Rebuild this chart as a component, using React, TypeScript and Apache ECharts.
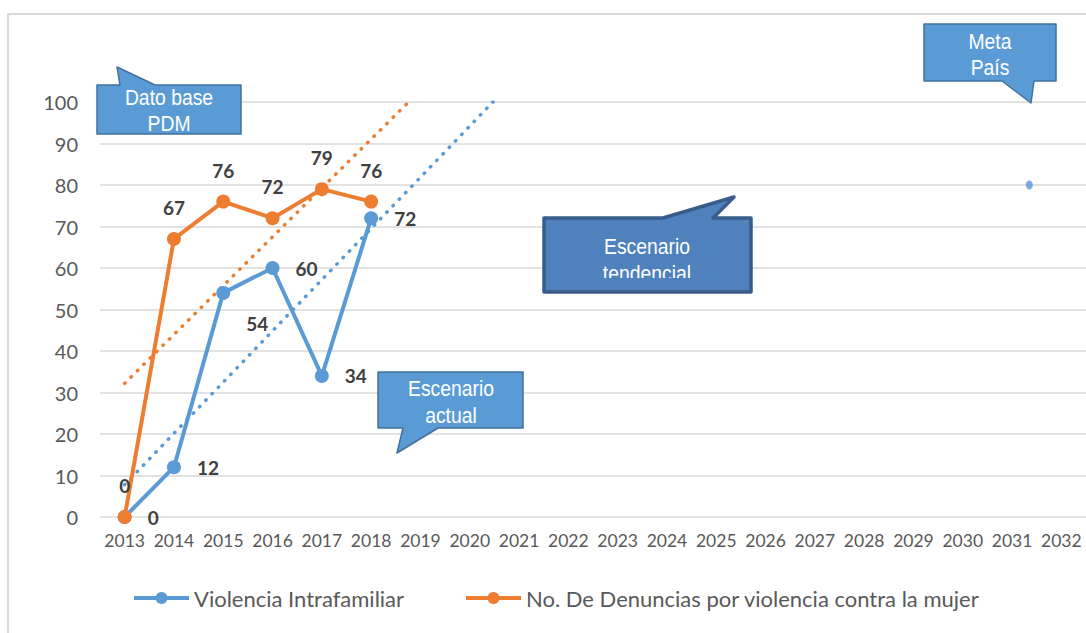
import React, { useEffect, useRef } from "react";
import * as echarts from "echarts";

const years = ["2013","2014","2015","2016","2017","2018","2019","2020","2021","2022","2023","2024","2025","2026","2027","2028","2029","2030","2031","2032"];
const violencia = [0, 12, 54, 60, 34, 72];
const denuncias = [0, 67, 76, 72, 79, 76];
const trendViolencia = [[2013, 7.8], [2020.47, 100]];
const trendDenuncias = [[2013, 32.2], [2018.76, 100]];
const metaPais = [[2031.35, 80]];
const yTicks = { min: 0, max: 100, interval: 10 };
const nameViolencia = "Violencia Intrafamiliar";
const nameDenuncias = "No. De Denuncias por violencia contra la mujer";

const BLUE = "#5b9bd5";
const ORANGE = "#ed7d31";
const LABEL = "#404040";
const AXIS = "#595959";
const GRID = "#d9d9d9";

function callout(points: number[][], fill: string, stroke: string, lw: number) {
  return {
    type: "polygon",
    z: 100,
    silent: true,
    shape: { points },
    style: { fill, stroke, lineWidth: lw, lineJoin: "round" },
  };
}
function ctext(text: string, x: number, y: number) {
  return {
    type: "text",
    z: 101,
    silent: true,
    x,
    y,
    scaleX: 0.88,
    style: {
      text,
      fill: "#ffffff",
      font: "22px 'Liberation Sans', Arial, sans-serif",
      align: "center",
      verticalAlign: "middle",
    },
  };
}

export default function App() {
  const ref = useRef<HTMLDivElement>(null);
  useEffect(() => {
    document.body.style.margin = "0";
    const chart = echarts.init(ref.current!, null, { renderer: "svg" });
    const labelBase = { show: true, fontFamily: "Lato", fontWeight: "bold", fontSize: 19, color: LABEL };
    const dotted = { type: [0.5, 8.5], cap: "round", width: 3.5 };
    const legendBase = {
      top: 587,
      padding: 0,
      itemWidth: 55,
      itemHeight: 15,
      itemGap: 5,
      lineStyle: { width: 4 },
      textStyle: { fontFamily: "Lato", fontSize: 22, color: AXIS },
    };
    chart.setOption({
      animation: false,
      grid: { left: 100, right: 0, top: 102, bottom: 116, containLabel: false },
      xAxis: [
        {
          type: "category",
          data: years,
          boundaryGap: true,
          axisLine: { show: false },
          axisTick: { show: false },
          splitLine: { show: false },
          axisLabel: { color: AXIS, fontFamily: "Lato", fontSize: 17.5, margin: 14, interval: 0 },
        },
        {
          type: "value",
          min: 2012.5,
          max: 2032.5,
          show: false,
          splitLine: { show: false },
        },
      ],
      yAxis: {
        type: "value",
        min: yTicks.min,
        max: yTicks.max,
        interval: yTicks.interval,
        axisLine: { show: false },
        axisTick: { show: false },
        splitLine: { lineStyle: { color: GRID, width: 1.5 } },
        axisLabel: { color: AXIS, fontFamily: "Lato", fontSize: 20, margin: 22 },
      },
      legend: [
        { ...legendBase, data: [nameViolencia], left: 132 },
        { ...legendBase, data: [nameDenuncias], left: 464 },
      ],
      graphic: [
        {
          type: "rect",
          z: -10,
          silent: true,
          shape: { x: 8, y: 14, width: 1200, height: 800 },
          style: { fill: "none", stroke: GRID, lineWidth: 2 },
        },
        callout([[97,85],[120,85],[117,67],[155,85],[241,85],[241,134],[97,134]], BLUE, "#41719c", 1.5),
        ctext("Dato base", 169, 97),
        ctext("PDM", 169, 123),
        callout([[378,372],[523,372],[523,428],[438,428],[397,453],[403,428],[378,428]], BLUE, "#41719c", 1.5),
        ctext("Escenario", 451, 388),
        ctext("actual", 451, 415),
        callout([[544,218],[663,218],[734,197],[713,218],[751,218],[751,292],[544,292]], "#4f81bd", "#385d8a", 3.5),
        ctext("Escenario", 647, 246),
        ctext("tendencial", 647, 273),
        {
          type: "rect",
          z: 102,
          silent: true,
          shape: { x: 546, y: 278, width: 203, height: 12 },
          style: { fill: "#4f81bd" },
        },
        callout([[924,24],[1056,24],[1056,81],[1034,81],[1031,103],[1002,81],[924,81]], BLUE, "#41719c", 1.5),
        ctext("Meta", 990, 41),
        ctext("País", 990, 67),
      ],
      series: [
        {
          type: "line",
          name: "trendV",
          xAxisIndex: 1,
          data: trendViolencia,
          symbol: "none",
          silent: true,
          lineStyle: { ...dotted, color: BLUE },
          z: 1,
        },
        {
          type: "line",
          name: "trendD",
          xAxisIndex: 1,
          data: trendDenuncias,
          symbol: "none",
          silent: true,
          lineStyle: { ...dotted, color: ORANGE },
          z: 1,
        },
        {
          type: "line",
          name: nameViolencia,
          xAxisIndex: 1,
          color: BLUE,
          symbol: "circle",
          symbolSize: 14,
          lineStyle: { width: 4, color: BLUE },
          itemStyle: { color: BLUE },
          data: violencia.map((v, i) => ({
            value: [Number(years[i]), v],
            label: {
              ...labelBase,
              position: "right",
              distance: 16,
              offset: i === 2 ? [0, 31] : [0, 0],
            },
          })),
          z: 3,
        },
        {
          type: "line",
          name: nameDenuncias,
          xAxisIndex: 1,
          color: ORANGE,
          symbol: "circle",
          symbolSize: 14,
          lineStyle: { width: 4, color: ORANGE },
          itemStyle: { color: ORANGE },
          data: denuncias.map((v, i) => ({
            value: [Number(years[i]), v],
            label: { ...labelBase, position: "top", distance: 15 },
          })),
          z: 4,
        },
        {
          type: "scatter",
          name: "meta",
          xAxisIndex: 1,
          data: metaPais,
          symbol: "circle",
          symbolSize: [7, 9],
          itemStyle: { color: BLUE },
          silent: true,
          z: 3,
        },
      ],
    });
    return () => chart.dispose();
  }, []);
  return <div ref={ref} style={{ width: 1086, height: 633 }} />;
}
